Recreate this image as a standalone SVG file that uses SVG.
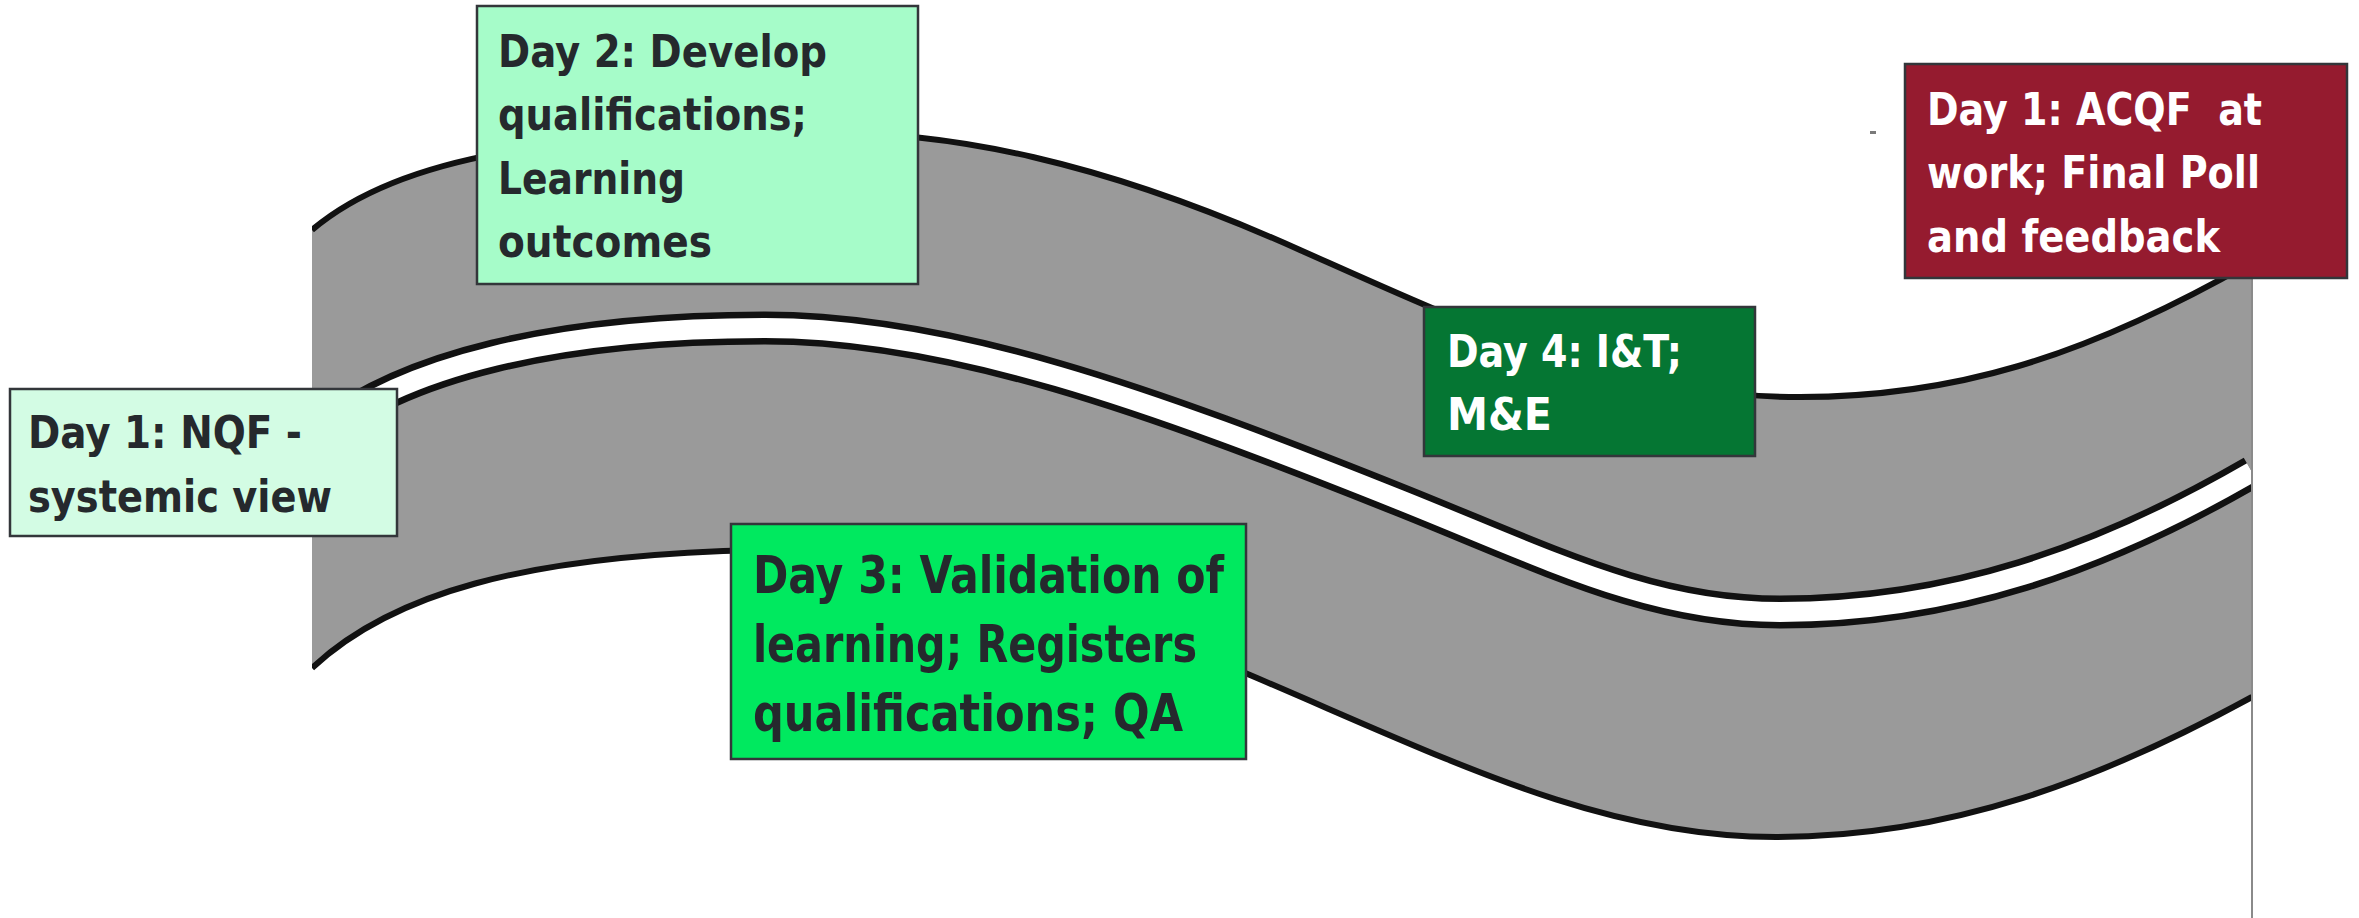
<svg xmlns="http://www.w3.org/2000/svg" width="2359" height="918" viewBox="0 0 2359 918">
  <defs>
    <clipPath id="bandClip">
      <rect x="312" y="0" width="1940" height="918"/>
    </clipPath>
    <style>
      .box { stroke: #33363a; stroke-width: 2.5; }
      .t { font-family: "DejaVu Sans Condensed", "DejaVu Sans", "Liberation Sans", sans-serif; font-weight: bold; font-stretch: condensed; font-size: 44px; }
      .big { font-size: 52px; }
      .dark { fill: #25292d; }
      .light { fill: #ffffff; }
      .edge { fill: none; stroke: #111111; stroke-width: 6; }
    </style>
  </defs>
  <rect x="0" y="0" width="2359" height="918" fill="#ffffff"/>

  <g id="road" clip-path="url(#bandClip)">
    <path d="M312,230 C400,155 560,132 820,132 C950,132 1100,160 1300,250 C1480,330 1620,397 1800,397 C1950,397 2080,360 2252,262 L2252,697 C2100,780 1950,837 1776,837 C1600,837 1450,760 1250,675 C1050,590 900,548 760,550 C520,555 390,595 312,668 Z" fill="#9a9a9a"/>
    <path class="edge" d="M312,230 C400,155 560,132 820,132 C950,132 1100,160 1300,250 C1480,330 1620,397 1800,397 C1950,397 2080,360 2252,262"/>
    <path class="edge" d="M312,668 C390,595 520,555 760,550 C900,548 1050,590 1250,675 C1450,760 1600,837 1776,837 C1950,837 2100,780 2252,697"/>
    <path d="M312,440 C400,365 560,328 765,328 C950,328 1150,400 1400,500 C1550,560 1650,612 1780,612 C1950,612 2100,560 2252,472" fill="none" stroke="#111111" stroke-width="33"/>
    <path d="M312,440 C400,365 560,328 765,328 C950,328 1150,400 1400,500 C1550,560 1650,612 1780,612 C1950,612 2100,560 2252,472" fill="none" stroke="#ffffff" stroke-width="20"/>
  </g>
  <line x1="2252" y1="262" x2="2252" y2="918" stroke="#8a8a8a" stroke-width="2"/>
  <rect x="1870" y="131" width="6" height="3" fill="#7a7a7a"/>

  <g id="node-day1-nqf">
    <rect class="box" x="10" y="389" width="387" height="147" fill="#d3fce4"/>
    <text class="t dark" x="28" y="448" textLength="274" lengthAdjust="spacingAndGlyphs">Day 1: NQF -</text>
    <text class="t dark" x="28" y="512" textLength="304" lengthAdjust="spacingAndGlyphs">systemic view</text>
  </g>

  <g id="node-day2">
    <rect class="box" x="477" y="6" width="441" height="278" fill="#a6fcc9"/>
    <text class="t dark" x="498" y="67" textLength="329" lengthAdjust="spacingAndGlyphs">Day 2: Develop</text>
    <text class="t dark" x="498" y="130" textLength="309" lengthAdjust="spacingAndGlyphs">qualifications;</text>
    <text class="t dark" x="498" y="194" textLength="187" lengthAdjust="spacingAndGlyphs">Learning</text>
    <text class="t dark" x="498" y="257" textLength="214" lengthAdjust="spacingAndGlyphs">outcomes</text>
  </g>

  <g id="node-day3">
    <rect class="box" x="731" y="524" width="515" height="235" fill="#00e95f"/>
    <text class="t big dark" x="753" y="593" textLength="471" lengthAdjust="spacingAndGlyphs">Day 3: Validation of</text>
    <text class="t big dark" x="753" y="662" textLength="444" lengthAdjust="spacingAndGlyphs">learning; Registers</text>
    <text class="t big dark" x="753" y="731" textLength="430" lengthAdjust="spacingAndGlyphs">qualifications; QA</text>
  </g>

  <g id="node-day4">
    <rect class="box" x="1424" y="307" width="331" height="149" fill="#057633"/>
    <text class="t light" x="1447" y="367" textLength="235" lengthAdjust="spacingAndGlyphs">Day 4: I&amp;T;</text>
    <text class="t light" x="1447" y="430" textLength="105" lengthAdjust="spacingAndGlyphs">M&amp;E</text>
  </g>

  <g id="node-day1-acqf">
    <rect class="box" x="1905" y="64" width="442" height="214" fill="#951b2f"/>
    <text class="t light" x="1927" y="125" textLength="335" lengthAdjust="spacingAndGlyphs" xml:space="preserve">Day 1: ACQF  at</text>
    <text class="t light" x="1927" y="188" textLength="333" lengthAdjust="spacingAndGlyphs">work; Final Poll</text>
    <text class="t light" x="1927" y="252" textLength="293" lengthAdjust="spacingAndGlyphs">and feedback</text>
  </g>

  <g id="connectors"></g>
</svg>
